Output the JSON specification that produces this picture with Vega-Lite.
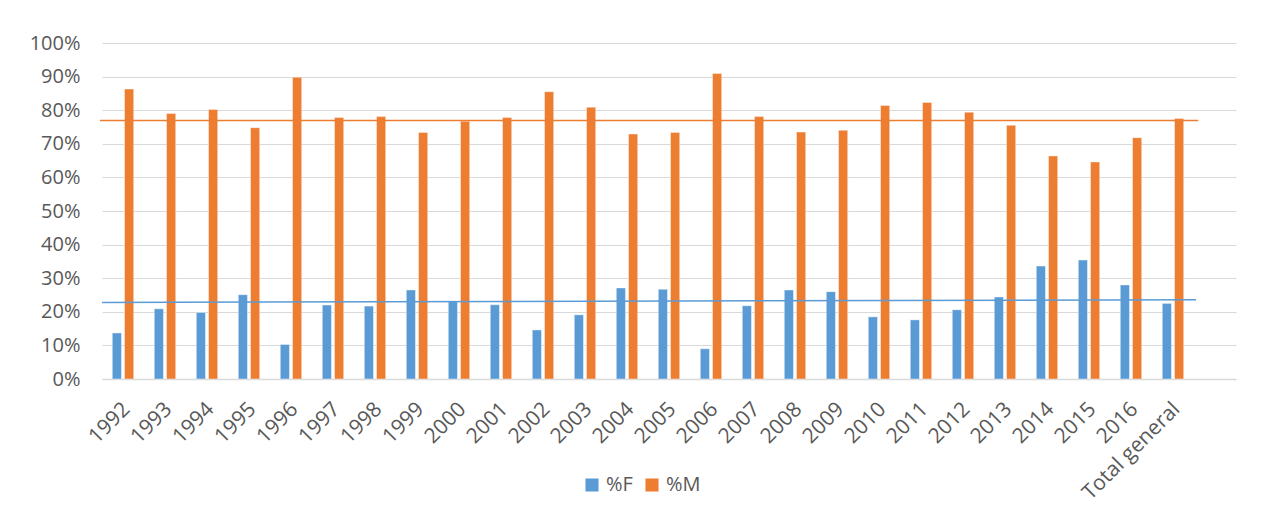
{
  "$schema": "https://vega.github.io/schema/vega-lite/v6.json",
  "width": 1134,
  "height": 336,
  "autosize": {"type": "none"},
  "padding": {"left": 102, "top": 43, "right": 28, "bottom": 138},
  "background": "white",
  "config": {
    "view": {"stroke": null},
    "font": "Open Sans",
    "axis": {"labelFont": "Open Sans", "labelColor": "#595959"}
  },
  "encoding": {
    "y": {
      "field": "value",
      "type": "quantitative",
      "scale": {"domain": [0, 1]},
      "axis": {
        "title": null,
        "values": [0, 0.1, 0.2, 0.3, 0.4, 0.5, 0.6, 0.7, 0.8, 0.9, 1],
        "format": ".0%",
        "labelFontSize": 20,
        "labelPadding": 22,
        "labelOverlap": false,
        "ticks": false,
        "domain": false,
        "gridColor": "#d9d9d9",
        "gridWidth": 1.2
      }
    },
    "color": {
      "field": "serie",
      "type": "nominal",
      "scale": {"domain": ["%F", "%M"], "range": ["#5B9BD5", "#ED7D31"]},
      "legend": {
        "title": null,
        "orient": "none",
        "direction": "horizontal",
        "legendX": 480,
        "legendY": 432,
        "symbolType": "square",
        "symbolSize": 170,
        "symbolStrokeWidth": 0,
        "labelFontSize": 20,
        "labelColor": "#595959",
        "labelFont": "Open Sans",
        "columnPadding": 9,
        "symbolOffset": 0
      }
    }
  },
  "layer": [
    {
      "data": {
        "values": [
          {"year": "1992", "serie": "%F", "value": 0.137}, {"year": "1992", "serie": "%M", "value": 0.863},
          {"year": "1993", "serie": "%F", "value": 0.209}, {"year": "1993", "serie": "%M", "value": 0.790},
          {"year": "1994", "serie": "%F", "value": 0.198}, {"year": "1994", "serie": "%M", "value": 0.802},
          {"year": "1995", "serie": "%F", "value": 0.251}, {"year": "1995", "serie": "%M", "value": 0.748},
          {"year": "1996", "serie": "%F", "value": 0.103}, {"year": "1996", "serie": "%M", "value": 0.898},
          {"year": "1997", "serie": "%F", "value": 0.220}, {"year": "1997", "serie": "%M", "value": 0.778},
          {"year": "1998", "serie": "%F", "value": 0.217}, {"year": "1998", "serie": "%M", "value": 0.781},
          {"year": "1999", "serie": "%F", "value": 0.265}, {"year": "1999", "serie": "%M", "value": 0.734},
          {"year": "2000", "serie": "%F", "value": 0.232}, {"year": "2000", "serie": "%M", "value": 0.767},
          {"year": "2001", "serie": "%F", "value": 0.221}, {"year": "2001", "serie": "%M", "value": 0.778},
          {"year": "2002", "serie": "%F", "value": 0.146}, {"year": "2002", "serie": "%M", "value": 0.855},
          {"year": "2003", "serie": "%F", "value": 0.191}, {"year": "2003", "serie": "%M", "value": 0.809},
          {"year": "2004", "serie": "%F", "value": 0.271}, {"year": "2004", "serie": "%M", "value": 0.729},
          {"year": "2005", "serie": "%F", "value": 0.267}, {"year": "2005", "serie": "%M", "value": 0.734},
          {"year": "2006", "serie": "%F", "value": 0.090}, {"year": "2006", "serie": "%M", "value": 0.909},
          {"year": "2007", "serie": "%F", "value": 0.218}, {"year": "2007", "serie": "%M", "value": 0.781},
          {"year": "2008", "serie": "%F", "value": 0.265}, {"year": "2008", "serie": "%M", "value": 0.735},
          {"year": "2009", "serie": "%F", "value": 0.260}, {"year": "2009", "serie": "%M", "value": 0.740},
          {"year": "2010", "serie": "%F", "value": 0.185}, {"year": "2010", "serie": "%M", "value": 0.814},
          {"year": "2011", "serie": "%F", "value": 0.176}, {"year": "2011", "serie": "%M", "value": 0.823},
          {"year": "2012", "serie": "%F", "value": 0.206}, {"year": "2012", "serie": "%M", "value": 0.794},
          {"year": "2013", "serie": "%F", "value": 0.244}, {"year": "2013", "serie": "%M", "value": 0.755},
          {"year": "2014", "serie": "%F", "value": 0.336}, {"year": "2014", "serie": "%M", "value": 0.664},
          {"year": "2015", "serie": "%F", "value": 0.354}, {"year": "2015", "serie": "%M", "value": 0.646},
          {"year": "2016", "serie": "%F", "value": 0.280}, {"year": "2016", "serie": "%M", "value": 0.718},
          {"year": "Total general", "serie": "%F", "value": 0.225}, {"year": "Total general", "serie": "%M", "value": 0.775}
        ]
      },
      "mark": {"type": "bar", "stroke": "white", "strokeWidth": 0.8, "strokeOpacity": 0.5},
      "encoding": {
        "x": {
          "field": "year",
          "type": "nominal",
          "sort": null,
          "scale": {
            "domain": ["1992","1993","1994","1995","1996","1997","1998","1999","2000","2001","2002","2003","2004","2005","2006","2007","2008","2009","2010","2011","2012","2013","2014","2015","2016","Total general"," "],
            "paddingInner": 0.49,
            "paddingOuter": 0.245
          },
          "axis": {
            "title": null,
            "labelAngle": -45,
            "labelFontSize": 21,
            "labelPadding": 19,
            "labelOffset": -4,
            "labelOverlap": false,
            "ticks": false,
            "domainColor": "#d9d9d9",
            "domainWidth": 1.5,
            "grid": false
          }
        },
        "xOffset": {"field": "serie", "type": "nominal", "scale": {"paddingInner": 0.25}}
      }
    },
    {
      "data": {
        "values": [
          {"serie": "%F", "pos": 0, "value": 0.228},
          {"serie": "%F", "pos": 26.05, "value": 0.236},
          {"serie": "%M", "pos": -0.05, "value": 0.769},
          {"serie": "%M", "pos": 26.1, "value": 0.769}
        ]
      },
      "mark": {"type": "line", "strokeWidth": 1.5, "clip": false},
      "encoding": {
        "x": {"field": "pos", "type": "quantitative", "scale": {"domain": [0, 27], "nice": false, "zero": false}, "axis": null}
      }
    }
  ],
  "resolve": {"scale": {"x": "independent"}}
}
